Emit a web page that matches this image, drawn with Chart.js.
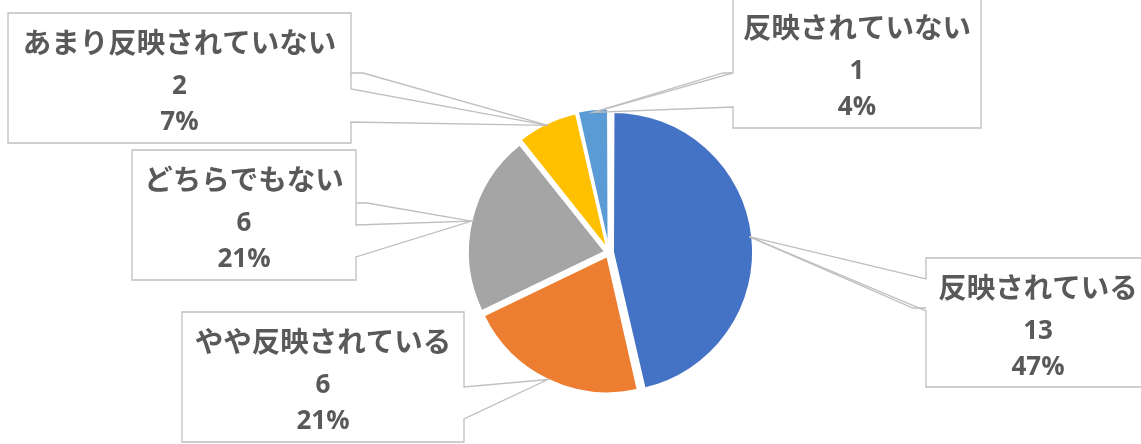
<!DOCTYPE html>
<html><head><meta charset="utf-8">
<script src="https://cdn.jsdelivr.net/npm/chart.js@4/dist/chart.umd.min.js"></script>
<style>html,body{margin:0;padding:0;background:#fff;overflow:hidden}#wrap{width:1141px;height:444px;position:relative}</style>
</head><body><div id="wrap"><canvas id="c"></canvas></div>
<script>
const categories = ['反映されている','やや反映されている','どちらでもない','あまり反映されていない','反映されていない'];
const counts = [13, 6, 6, 2, 1];
const percentLabels = ['47%', '21%', '21%', '7%', '4%'];
const sliceColors = ['#4472C4', '#ED7D31', '#A5A5A5', '#FFC000', '#5B9BD5'];

// callout layout (box: x, y, w, h; side of wedge; wedge base y-range; leader stub y and length)
const calloutLayout = [
  {box:[926,258,224,129], side:'left',  base:[279,311], stub:[308,-13]},
  {box:[182,312,282,130], side:'right', base:[387,419], stub:null},
  {box:[132,150,224,130], side:'right', base:[225,257], stub:[203,11]},
  {box:[8,13,343,130],    side:'right', base:[89,122],  stub:[73,12]},
  {box:[733,-2,248,130],  side:'left',  base:[73,107],  stub:[73,-10]}
];

const calloutPlugin = {
  id:'callouts',
  afterDatasetsDraw(chart){
    const ctx = chart.ctx;
    const meta = chart.getDatasetMeta(0);
    ctx.save();
    meta.data.forEach((arc, i) => {
      const p = arc.getProps(['x','y','startAngle','endAngle','outerRadius'], true);
      const mid = (p.startAngle + p.endAngle) / 2;
      const off = (arc.options.offset || 0) / 4;
      const tx = p.x + Math.cos(mid) * (p.outerRadius + off);
      const ty = p.y + Math.sin(mid) * (p.outerRadius + off);
      const L = calloutLayout[i];
      const [bx, by, bw, bh] = L.box;
      ctx.fillStyle = '#ffffff';
      ctx.fillRect(bx, by, bw, bh);
      ctx.strokeStyle = '#BFBFBF';
      ctx.lineWidth = 1.3;
      ctx.lineJoin = 'miter';
      ctx.beginPath();
      if (L.side === 'right') {
        const ex = bx + bw;
        ctx.moveTo(bx, by);
        ctx.lineTo(ex, by);
        ctx.lineTo(ex, L.base[0]);
        ctx.lineTo(tx, ty);
        ctx.lineTo(ex, L.base[1]);
        ctx.lineTo(ex, by + bh);
        ctx.lineTo(bx, by + bh);
        ctx.closePath();
      } else {
        const ex = bx;
        ctx.moveTo(bx + bw, by);
        ctx.lineTo(ex, by);
        ctx.lineTo(ex, L.base[0]);
        ctx.lineTo(tx, ty);
        ctx.lineTo(ex, L.base[1]);
        ctx.lineTo(ex, by + bh);
        ctx.lineTo(bx + bw, by + bh);
        ctx.closePath();
      }
      ctx.stroke();
      if (L.stub) {
        const ex = L.side === 'right' ? bx + bw : bx;
        ctx.beginPath();
        ctx.moveTo(ex, L.stub[0]);
        ctx.lineTo(ex + L.stub[1], L.stub[0]);
        ctx.lineTo(tx, ty);
        ctx.stroke();
      }
      const cx = bx + bw / 2;
      ctx.fillStyle = '#595959';
      ctx.textAlign = 'center';
      ctx.textBaseline = 'middle';
      ctx.font = 'bold 28.5px "Noto Sans CJK JP"';
      ctx.fillText(chart.data.labels[i], cx, by + 29.5);
      ctx.font = 'bold 26px "Open Sans", "Noto Sans"';
      ctx.fillText(String(chart.data.datasets[0].data[i]), cx, by + 74);
      ctx.fillText(percentLabels[i], cx, by + 110);
    });
    ctx.restore();
  }
};

new Chart(document.getElementById('c'), {
  type: 'pie',
  data: {
    labels: categories,
    datasets: [{
      data: counts,
      backgroundColor: sliceColors,
      borderColor: '#ffffff',
      borderWidth: 2,
      offset: 16
    }]
  },
  options: {
    responsive: true,
    maintainAspectRatio: false,
    animation: false,
    events: [],
    radius: 137,
    layout: {padding: {left: 77, right: 0, top: 61, bottom: 0}},
    plugins: {legend: {display: false}, tooltip: {enabled: false}}
  },
  plugins: [calloutPlugin]
});
</script></body></html>
